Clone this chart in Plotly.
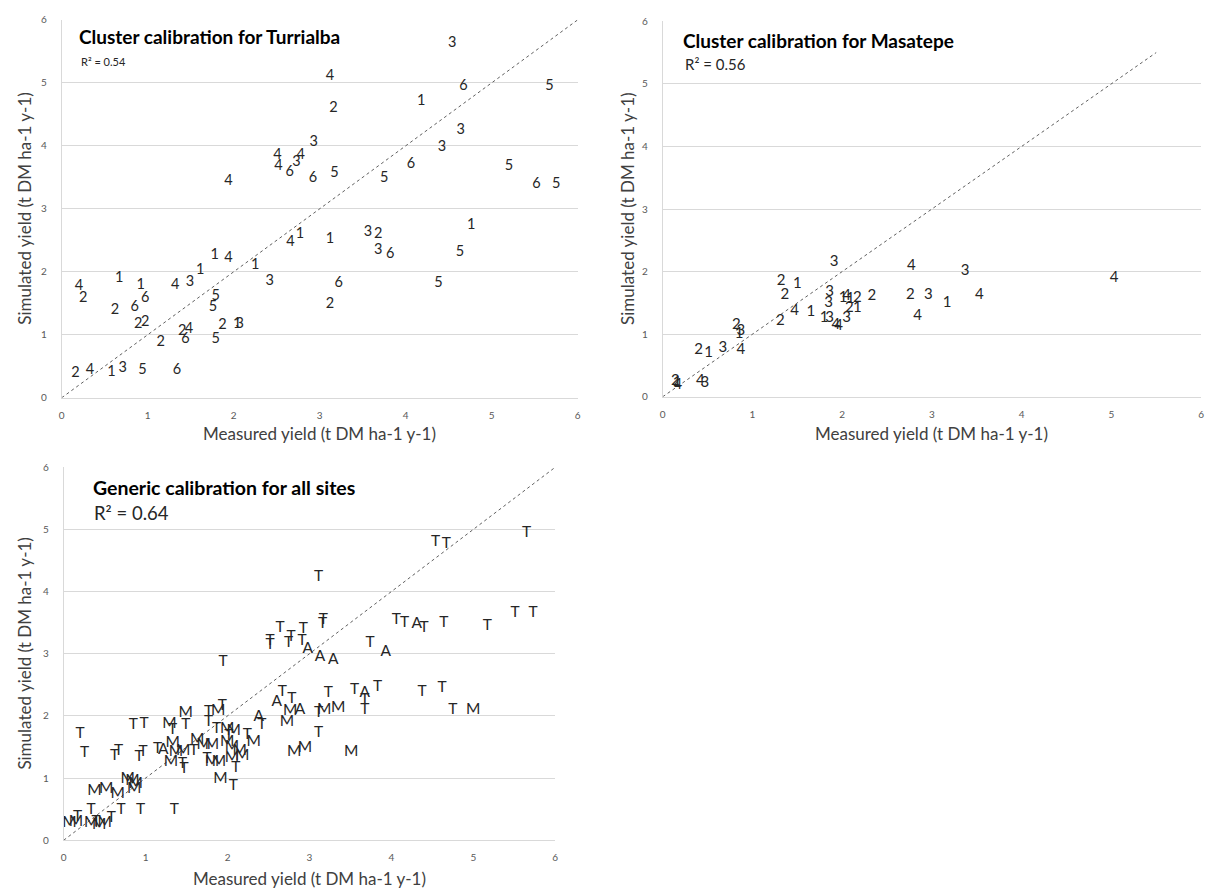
import plotly.graph_objects as go

# ---------------- data ----------------
# Panel 1: Cluster calibration for Turrialba (label = cluster id)
tl_labels = ["4","2","1","1","6","2","6","2","2","4","3","1","1","4",
             "2","4","1","3","5","6","2","2","4","6","5","5","5","2","1","3",
             "1","3","4","4","4","4","3","6","4","1",
             "3","4","6","5","1","2","3","3","3","6","5","6","5","5","6","5",
             "1","1","3","2","3","6","5","6","5","2"]
tl_x = [0.20,0.25,0.67,0.92,0.97,0.62,0.85,0.89,0.97,1.32,1.49,1.61,1.78,1.94,
        0.16,0.33,0.58,0.71,0.94,1.34,1.15,1.40,1.48,1.44,1.79,1.76,1.79,1.87,2.04,2.07,
        2.25,2.42,1.94,2.51,2.52,2.78,2.73,2.65,2.66,2.77,
        4.54,3.12,4.67,5.67,4.18,3.16,4.64,2.93,4.42,4.06,5.20,2.92,3.17,3.75,5.52,5.75,
        4.76,3.12,3.56,3.68,3.68,3.82,4.63,3.22,4.38,3.12]
tl_y = [1.77,1.57,1.90,1.79,1.58,1.39,1.43,1.16,1.19,1.79,1.83,2.02,2.26,2.22,
        0.39,0.43,0.40,0.46,0.43,0.43,0.88,1.06,1.08,0.92,1.61,1.44,0.93,1.15,1.17,1.17,
        2.10,1.85,3.43,3.84,3.67,3.84,3.74,3.57,2.46,2.60,
        5.63,5.10,4.94,4.94,4.71,4.59,4.25,4.06,3.98,3.70,3.67,3.48,3.56,3.48,3.39,3.39,
        2.73,2.52,2.63,2.60,2.34,2.28,2.30,1.82,1.82,1.49]

# Panel 2: Cluster calibration for Masatepe
tr_labels = ["3","2","1","2","3","3","1","4","1","2","2","2","1","3","4","1","1","3",
             "4","4","2","2","3","1","4","4","3","4","4","2","1","3","2","1","3","4",
             "2","1","4","4","3"]
tr_x = [1.91,1.32,1.50,1.36,1.86,1.85,2.01,2.05,2.09,2.17,2.33,2.08,2.17,2.05,1.47,1.65,1.80,1.86,
        1.93,1.96,1.31,2.76,2.96,3.17,2.84,2.77,3.37,3.53,5.03,0.82,0.85,0.87,0.40,0.51,0.67,0.87,
        0.14,0.16,0.17,0.42,0.47]
tr_y = [2.15,1.85,1.80,1.63,1.67,1.49,1.58,1.60,1.56,1.57,1.60,1.42,1.42,1.26,1.37,1.35,1.25,1.26,
        1.14,1.12,1.21,1.62,1.62,1.50,1.28,2.09,2.01,1.63,1.89,1.14,1.00,1.04,0.75,0.70,0.77,0.75,
        0.25,0.22,0.18,0.25,0.22]

# Panel 3: Generic calibration for all sites (T = Turrialba, M = Masatepe, A = other site)
b_T_x = [0.20,0.255,0.17,0.335,0.395,0.58,0.70,0.94,1.35,0.62,0.67,0.85,0.98,0.92,0.97,1.145,
         1.33,1.49,1.59,1.45,1.47,1.77,1.77,1.935,1.865,2.015,1.75,2.10,2.07,1.945,2.24,2.42,
         2.67,2.785,3.11,3.11,3.23,3.55,3.675,3.675,3.83,4.375,4.62,4.75,2.52,2.52,2.64,2.775,
         2.745,2.91,2.925,3.17,3.16,3.11,3.74,4.06,4.16,4.40,4.64,5.17,5.51,5.73,4.54,4.67,5.65]
b_T_y = [1.71,1.40,0.37,0.48,0.29,0.35,0.48,0.48,0.48,1.35,1.43,1.85,1.87,1.33,1.42,1.46,
         1.77,1.85,1.44,1.22,1.14,1.90,2.06,2.16,1.78,1.67,1.30,1.16,0.87,2.87,1.69,1.85,
         2.38,2.27,2.04,1.73,2.37,2.42,2.10,2.25,2.46,2.38,2.45,2.10,3.20,3.14,3.41,3.26,
         3.17,3.21,3.40,3.54,3.48,4.24,3.17,3.54,3.49,3.41,3.50,3.44,3.66,3.66,4.80,4.76,4.94]
b_A_x = [1.215,2.38,2.60,2.885,2.98,3.13,3.29,3.675,3.93,4.31]
b_A_y = [1.45,1.98,2.22,2.10,3.08,2.94,2.89,2.36,3.03,3.48]
b_M_x = [0.07,0.15,0.335,0.435,0.50,0.375,0.52,0.66,0.78,0.84,0.88,0.86,1.29,1.49,1.33,1.37,
         1.46,1.31,1.63,1.885,1.995,2.075,1.71,1.81,1.995,2.055,2.15,2.32,1.81,1.895,2.055,
         2.18,1.915,2.765,2.725,2.815,2.945,3.18,3.35,3.51,5.00]
b_M_y = [0.27,0.29,0.27,0.24,0.27,0.79,0.82,0.74,0.98,0.95,0.90,0.82,1.87,2.04,1.56,1.41,
         1.44,1.25,1.61,2.08,1.78,1.75,1.53,1.53,1.57,1.49,1.44,1.57,1.25,1.25,1.32,
         1.35,0.99,2.08,1.90,1.41,1.48,2.10,2.12,1.41,2.09]

# 1:1 reference lines
diag_tl = [0, 6]
diag_tr = [0, 5.5]
diag_b = [0, 6]

tick_vals = [0, 1, 2, 3, 4, 5, 6]
tick_text = ["0", "1", "2", "3", "4", "5", "6"]

titles = ["Cluster calibration for Turrialba", "Cluster calibration for Masatepe",
          "Generic calibration for all sites"]
r2_texts = ["R² = 0.54", "R² = 0.56", "R² = 0.64"]
x_title = "Measured yield (t DM ha-1 y-1)"
y_title = "Simulated yield (t DM ha-1 y-1)"

# ---------------- figure ----------------
W, H = 1214, 896
FONT = "Lato"
TXT = "#262626"
GRID = "#d9d9d9"

def px(x):
    return x / W

def py(y):
    return 1 - y / H

fig = go.Figure()

def text_trace(xs, ys, labels, size, xa, ya):
    fig.add_trace(go.Scatter(x=xs, y=ys, mode="text", text=labels,
                             textposition="middle center",
                             textfont=dict(family=FONT, size=size, color=TXT),
                             xaxis=xa, yaxis=ya, showlegend=False, hoverinfo="skip"))

def diag(vals, xa, ya):
    fig.add_trace(go.Scatter(x=vals, y=vals, mode="lines",
                             line=dict(color="#606060", width=1, dash="dot"),
                             xaxis=xa, yaxis=ya, showlegend=False, hoverinfo="skip"))

diag(diag_tl, "x", "y")
text_trace(tl_x, tl_y, tl_labels, 14.5, "x", "y")
diag(diag_tr, "x2", "y2")
text_trace(tr_x, tr_y, tr_labels, 15, "x2", "y2")
diag(diag_b, "x3", "y3")
text_trace(b_T_x, b_T_y, ["T"] * len(b_T_x), 15.5, "x3", "y3")
text_trace(b_A_x, b_A_y, ["A"] * len(b_A_x), 15.5, "x3", "y3")
text_trace(b_M_x, b_M_y, ["M"] * len(b_M_x), 15.5, "x3", "y3")

panels = [
    # (x0px, x1px, ytop px, ybottom px)
    (59, 577.6, 13, 396.5),
    (663, 1204, 14.5, 395.5),
    (61, 555, 467, 845.5),
]

def xaxis_cfg(p, anchor):
    return dict(domain=[px(p[0]), px(p[1])], range=[0, 6], tickvals=tick_vals, ticktext=tick_text,
                showgrid=False, zeroline=False, showline=True, linecolor=GRID, linewidth=1,
                ticks="outside", ticklen=8, tickcolor="rgba(0,0,0,0)",
                tickfont=dict(family=FONT, size=10, color="#595959"), anchor=anchor,
                fixedrange=True)

def yaxis_cfg(p, anchor):
    return dict(domain=[py(p[3]), py(p[2])], range=[0, 6], tickvals=tick_vals, ticktext=tick_text,
                showgrid=True, gridcolor=GRID, gridwidth=1, zeroline=False,
                showline=True, linecolor=GRID, linewidth=1,
                ticks="outside", ticklen=12, tickcolor="rgba(0,0,0,0)",
                tickfont=dict(family=FONT, size=10, color="#595959"), anchor=anchor,
                fixedrange=True)

fig.update_layout(
    xaxis=xaxis_cfg(panels[0], "y"), yaxis=yaxis_cfg(panels[0], "x"),
    xaxis2=xaxis_cfg(panels[1], "y2"), yaxis2=yaxis_cfg(panels[1], "x2"),
    xaxis3=xaxis_cfg(panels[2], "y3"), yaxis3=yaxis_cfg(panels[2], "x3"),
)

ann = []
# panel titles and R²: (title x, title y, title size, r2 x, r2 y, r2 size)
title_specs = [(74, 30, 19, 76, 55, 11), (681, 34, 19, 683, 58, 15), (88, 488, 19.5, 89, 513, 18.5)]
for (tx, ty, ts, rx, ry, rs), t, r in zip(title_specs, titles, r2_texts):
    ann.append(dict(x=px(tx), y=py(ty), xref="paper", yref="paper", text="<b>" + t + "</b>",
                    showarrow=False, xanchor="left", yanchor="middle",
                    font=dict(family=FONT, size=ts, color="#000000")))
    ann.append(dict(x=px(rx), y=py(ry), xref="paper", yref="paper", text=r,
                    showarrow=False, xanchor="left", yanchor="middle",
                    font=dict(family=FONT, size=rs, color=TXT)))

# axis titles
xt_specs = [((59 + 577.6) / 2, 433), ((663 + 1204) / 2, 433), ((61 + 555) / 2, 884)]
yt_specs = [(22, (13 + 396.5) / 2), (627, (14.5 + 395.5) / 2), (22, (467 + 845.5) / 2)]
for (xx, yy) in xt_specs:
    ann.append(dict(x=px(xx), y=py(yy), xref="paper", yref="paper", text=x_title,
                    showarrow=False, xanchor="center", yanchor="middle",
                    font=dict(family=FONT, size=17, color="#404040")))
for (xx, yy) in yt_specs:
    ann.append(dict(x=px(xx), y=py(yy), xref="paper", yref="paper", text=y_title,
                    showarrow=False, xanchor="center", yanchor="middle", textangle=-90,
                    font=dict(family=FONT, size=17, color="#404040")))

fig.update_layout(
    width=W, height=H, margin=dict(l=0, r=0, t=0, b=0),
    paper_bgcolor="white", plot_bgcolor="white",
    showlegend=False, annotations=ann,
    font=dict(family=FONT),
)

fig.write_html("out.html", config={"displayModeBar": False})
